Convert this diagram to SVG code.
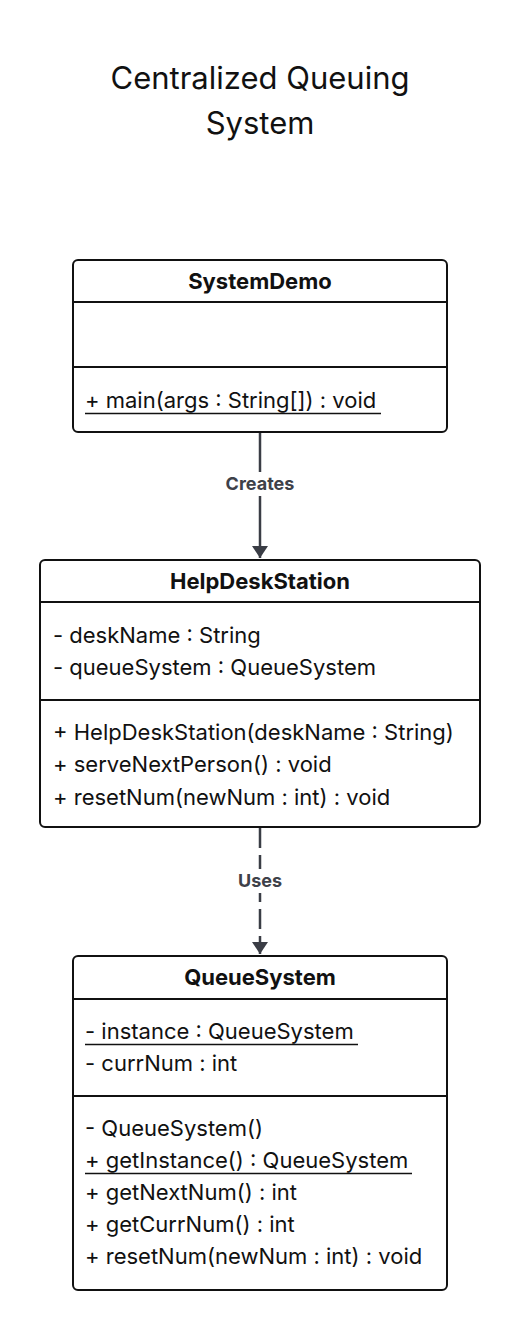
<svg xmlns="http://www.w3.org/2000/svg" width="520" height="1329" viewBox="0 0 520 1329">
<style>
.box{fill:#fff;stroke:#111;stroke-width:2}
.div{stroke:#111;stroke-width:2}
.t{font-family:Inter,"Noto Sans",sans-serif;font-size:22px;fill:#111}
.h{font-family:Inter,"Noto Sans",sans-serif;font-size:22px;font-weight:700;fill:#111;text-anchor:middle}
.u{stroke:#111;stroke-width:1.5}
.title{font-family:Inter,"Noto Sans",sans-serif;font-size:31px;fill:#111;text-anchor:middle}
.edge{stroke:#3a3d45;stroke-width:2.5;fill:none}
.lbl{font-family:Inter,"Noto Sans",sans-serif;font-size:18px;font-weight:700;fill:#3e4149;text-anchor:middle}
</style>
<defs>
<marker id="arr" viewBox="0 0 12 16" refX="12" refY="8" markerWidth="12" markerHeight="16" markerUnits="userSpaceOnUse" orient="auto">
<path d="M0,0 L12,8 L0,16 Z" fill="#3a3d45"/>
</marker>
</defs>
<rect width="520" height="1329" fill="#fff"/>
<g id="title">
<text class="title" x="260" y="89">Centralized Queuing</text>
<text class="title" x="260" y="134">System</text>
</g>
<g id="connectors">
<line class="edge" x1="260" y1="432" x2="260" y2="558" marker-end="url(#arr)"/>
<rect x="222" y="472" width="76" height="24" fill="#fff"/>
<text class="lbl" x="260" y="490">Creates</text>
<line class="edge" x1="260" y1="828" x2="260" y2="954" stroke-dasharray="20,7" marker-end="url(#arr)"/>
<rect x="232" y="869" width="56" height="24" fill="#fff"/>
<text class="lbl" x="260" y="887">Uses</text>
</g>
<g id="SystemDemo">
<rect class="box" x="73" y="260" width="374" height="172" rx="5"/>
<line class="div" x1="73" y1="302" x2="447" y2="302"/>
<line class="div" x1="73" y1="367" x2="447" y2="367"/>
<text class="h" x="260" y="289">SystemDemo</text>
<text class="t" x="85" y="408">+ main(args : String[]) : void</text>
<line class="u" x1="85" y1="413.5" x2="381" y2="413.5"/>
</g>
<g id="HelpDeskStation">
<rect class="box" x="40" y="560" width="440" height="267" rx="5"/>
<line class="div" x1="40" y1="602" x2="480" y2="602"/>
<line class="div" x1="40" y1="700" x2="480" y2="700"/>
<text class="h" x="260" y="589">HelpDeskStation</text>
<text class="t" x="53" y="643">- deskName : String</text>
<text class="t" x="53" y="675">- queueSystem : QueueSystem</text>
<text class="t" x="53" y="740">+ HelpDeskStation(deskName : String)</text>
<text class="t" x="53" y="772">+ serveNextPerson() : void</text>
<text class="t" x="53" y="805">+ resetNum(newNum : int) : void</text>
</g>
<g id="QueueSystem">
<rect class="box" x="73" y="956" width="374" height="334" rx="5"/>
<line class="div" x1="73" y1="999" x2="447" y2="999"/>
<line class="div" x1="73" y1="1096" x2="447" y2="1096"/>
<text class="h" x="260" y="985">QueueSystem</text>
<text class="t" x="85" y="1039">- instance : QueueSystem</text>
<line class="u" x1="85" y1="1044.5" x2="358" y2="1044.5"/>
<text class="t" x="85" y="1071">- currNum : int</text>
<text class="t" x="85" y="1136">- QueueSystem()</text>
<text class="t" x="85" y="1168">+ getInstance() : QueueSystem</text>
<line class="u" x1="85" y1="1173.5" x2="412" y2="1173.5"/>
<text class="t" x="85" y="1200">+ getNextNum() : int</text>
<text class="t" x="85" y="1232">+ getCurrNum() : int</text>
<text class="t" x="85" y="1264">+ resetNum(newNum : int) : void</text>
</g>
</svg>
